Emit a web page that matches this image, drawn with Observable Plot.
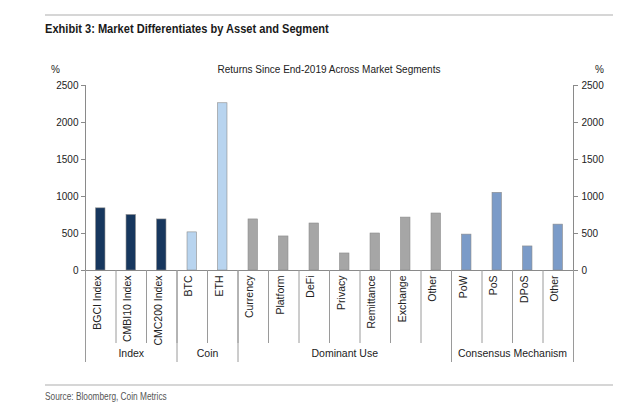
<!DOCTYPE html>
<html>
<head>
<meta charset="utf-8">
<script src="https://cdn.jsdelivr.net/npm/d3@7"></script>
<script src="https://cdn.jsdelivr.net/npm/@observablehq/plot@0.6"></script>
<style>
  html, body { margin: 0; padding: 0; background: #fff; }
  #wrap { position: relative; width: 640px; height: 413px; overflow: hidden; font-family: "Liberation Sans", Arial, sans-serif; }
  #chart { position: absolute; left: 0; top: 0; }
  .abs { position: absolute; white-space: nowrap; }
  .rule { position: absolute; background: #d6d6d6; height: 2px; }
  #title { left: 45px; top: 21px; font-family: "Liberation Sans Narrow", "Liberation Sans", sans-serif; font-weight: bold; font-size: 13.5px; color: #1a1a1a; transform: scaleX(0.82); transform-origin: 0 0; }
  #source { left: 45px; top: 390px; font-family: "Liberation Sans Narrow", "Liberation Sans", sans-serif; font-size: 10.5px; color: #555; transform: scaleX(0.79); transform-origin: 0 0; }
  #subtitle { left: 85px; width: 488px; text-align: center; top: 64px; font-size: 10px; color: #222; }
  .pct { top: 64px; font-size: 10px; color: #222; }
</style>
</head>
<body>
<div id="wrap">
  <div id="chart"></div>
  <div class="rule" style="left:45px; top:14px; width:568px;"></div>
  <div class="abs" id="title">Exhibit 3: Market Differentiates by Asset and Segment</div>
  <div class="abs" id="subtitle">Returns Since End-2019 Across Market Segments</div>
  <div class="abs pct" style="left:51px;">%</div>
  <div class="abs pct" style="left:595px;">%</div>
  <div class="rule" style="left:45px; top:384px; width:568px;"></div>
  <div class="abs" id="source">Source: Bloomberg, Coin Metrics</div>
</div>
<script>
const categories = ["BGCI Index","CMBI10 Index","CMC200 Index","BTC","ETH","Currency","Platform","DeFi","Privacy","Remittance","Exchange","Other","PoW","PoS","DPoS","Other"];
const returns = [840,750,690,515,2260,690,460,635,230,500,715,770,485,1050,325,620];
const groups = ["Index","Coin","Dominant Use","Consensus Mechanism"];
const groupSizes = [3,2,7,4];
const groupColors = ["#17375e","#b8d4ef","#a6a6a6","#7b9bc8"];
const yTicks = [0,500,1000,1500,2000,2500];

// build tables
const groupOf = [];
groupSizes.forEach((n, g) => { for (let k = 0; k < n; k++) groupOf.push(groups[g]); });
const data = categories.map((c, i) => ({i, label: c, value: returns[i], group: groupOf[i]}));
const bounds = [0];
groupSizes.forEach(n => bounds.push(bounds[bounds.length - 1] + n));
const groupData = groups.map((g, k) => ({name: g, center: (bounds[k] + bounds[k + 1]) / 2}));
const n = categories.length;

const chart = Plot.plot({
  width: 640,
  height: 413,
  marginLeft: 85,
  marginRight: 67,
  marginTop: 85,
  marginBottom: 143,
  style: {fontFamily: "'Liberation Sans', Arial, sans-serif", fontSize: "10px", color: "#222", background: "transparent"},
  x: {type: "linear", domain: [0, n]},
  y: {domain: [0, 2500]},
  color: {domain: groups, range: groupColors},
  marks: [
    Plot.rectY(data, {x1: d => d.i + 0.345, x2: d => d.i + 0.655, y1: 0, y2: "value", fill: "group", stroke: "#8c8c8c", strokeWidth: 0.6}),
    Plot.ruleX([0, n], {stroke: "#8a8a8a"}),
    Plot.ruleY([0], {stroke: "#8a8a8a"}),
    Plot.axisY({anchor: "left", ticks: yTicks, tickSize: 4, tickPadding: 3, tickFormat: d => String(d), stroke: "#8a8a8a", fill: "#222", label: null}),
    Plot.axisY({anchor: "right", ticks: yTicks, tickSize: 4, tickPadding: 4, tickFormat: d => String(d), stroke: "#8a8a8a", fill: "#222", label: null}),
    Plot.axisX({anchor: "bottom", ticks: d3.range(0, n + 1), tickSize: 73, tickFormat: () => "", stroke: "#9a9a9a", label: null}),
    Plot.axisX({anchor: "bottom", ticks: bounds, tickSize: 92, tickFormat: () => "", stroke: "#9a9a9a", label: null}),
    Plot.text(data, {x: d => d.i + 0.5, text: "label", frameAnchor: "bottom", dy: 5, rotate: -90, textAnchor: "end", fill: "#222", fontSize: 10.5}),
    Plot.text(groupData, {x: "center", text: "name", frameAnchor: "bottom", dy: 86, fill: "#222", fontSize: 10.5})
  ]
});
document.getElementById("chart").appendChild(chart);
</script>
</body>
</html>
